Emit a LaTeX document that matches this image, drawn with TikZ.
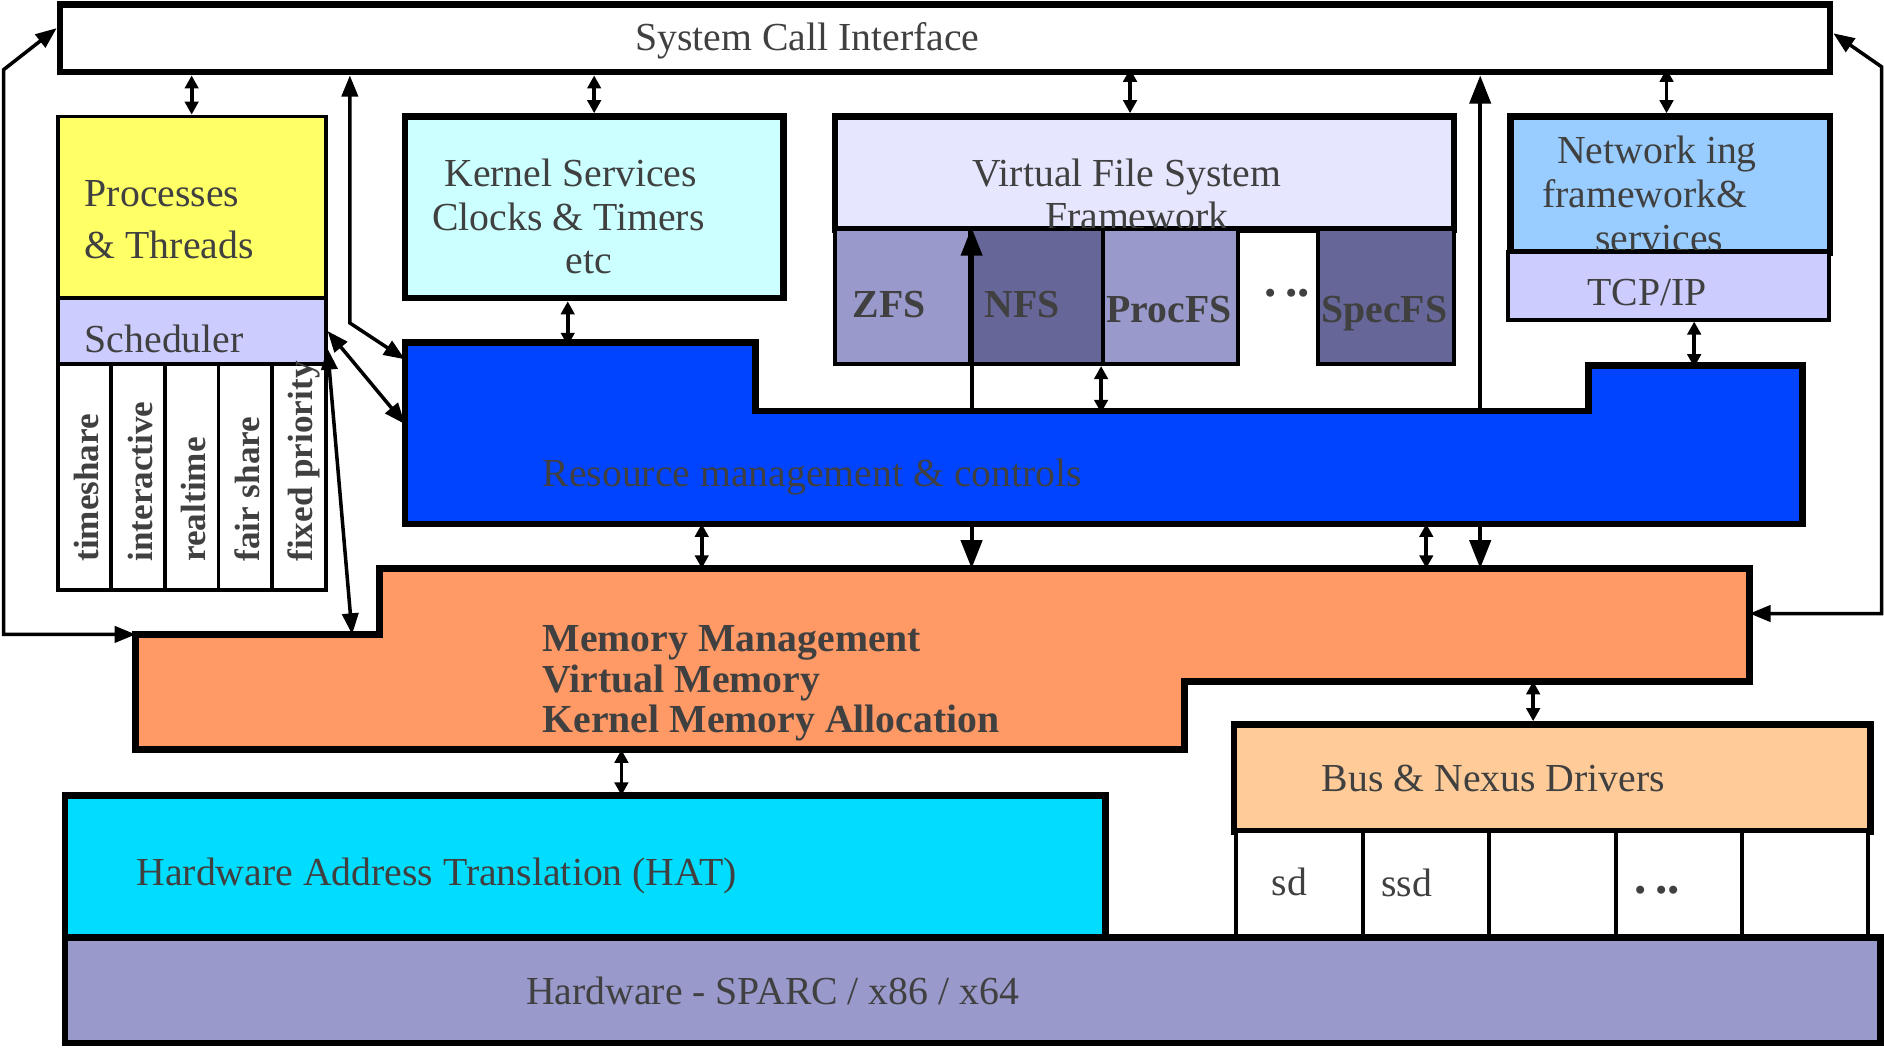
\documentclass[tikz,border=0pt]{standalone}
\usepackage{fontspec}
\setmainfont{Liberation Serif}
\usetikzlibrary{arrows.meta,fit,calc,positioning}
\definecolor{txtgray}{RGB}{64,64,64}
\definecolor{procyellow}{HTML}{FFFF66}
\definecolor{schedlilac}{HTML}{CCCCFF}
\definecolor{kerncyan}{HTML}{CCFFFF}
\definecolor{vfslilac}{HTML}{E6E6FF}
\definecolor{fslight}{HTML}{9999CC}
\definecolor{fsdark}{HTML}{666699}
\definecolor{netblue}{HTML}{99CCFF}
\definecolor{resblue}{HTML}{0044FF}
\definecolor{memorange}{HTML}{FF9966}
\definecolor{busorange}{HTML}{FFCC99}
\definecolor{hatcyan}{HTML}{00DDFF}
\tikzset{layer/.style = {draw, line width=1.9pt, inner sep=0pt, fit={#1}},
         cell/.style = {draw, line width=1.1pt, inner sep=0pt, fit={#1}},
         lbl/.style = {text=txtgray, inner sep=0pt, font=\fontsize{11.3}{13}\selectfont},
         blbl/.style = {text=txtgray, inner sep=0pt, font=\fontsize{11.3}{13}\selectfont\bfseries},
         dots/.style = {text=txtgray, inner sep=0pt, font=\fontsize{14}{16}\selectfont\bfseries, anchor=base west},
         rot/.style = {text=txtgray, inner sep=0pt, font=\fontsize{10}{12}\selectfont\bfseries, rotate=90, anchor=base west},
         dbl/.style = {line width=1.1pt, {Triangle[length=3.7pt,width=3.8pt]}-{Triangle[length=3.7pt,width=3.8pt]}},
         link/.style = {line width=1pt, {Triangle[length=6pt,width=4.6pt]}-{Triangle[length=6pt,width=4.6pt]}},
         big/.style = {line width=1.1pt, -{Triangle[length=8pt,width=6pt]}}}

\begin{document}
\begin{tikzpicture}[x=0.012015cm, y=-0.012015cm]
    \useasboundingbox (0,0) rectangle (1568,872);
    % system call interface
    \node[layer={(50,4) (1523,60)}, fill=white] (sci) {};
    \node[lbl, anchor=base] (scit) at (672,42) {System Call Interface};
    % processes, scheduler and classes
    \node[cell={(48,97) (271,248)}, fill=procyellow] (proc) {};
    \node[lbl, anchor=base west] (proct1) at (70,172) {Processes};
    \node[lbl, anchor=base west] (proct2) at (70,215) {\& Threads};
    \node[cell={(48,248) (271,303)}, fill=schedlilac] (sched) {};
    \node[lbl, anchor=base west] (schedt) at (70,293) {Scheduler};
    \foreach \cls [count=\i] in {timeshare, interactive, realtime, fair share, fixed priority} {
        \node[cell={(3.4+44.6*\i,303) (48+44.6*\i,491)}, fill=white] (cls\i) {};
        \node[rot] (clst\i) at (37.4+44.6*\i,468) {\cls};
    }
    % kernel services
    \node[layer={(337,97) (652,248)}, fill=kerncyan] (kern) {};
    \node[lbl, anchor=base] (kernt1) at (475,155) {Kernel Services};
    \node[lbl, anchor=base] (kernt2) at (473,192) {Clocks \& Timers};
    \node[lbl, anchor=base] (kernt3) at (490,228) {etc};
    % file systems
    \node[layer={(695,97) (1210,191)}, fill=vfslilac] (vfs) {};
    \node[lbl, anchor=base] (vfst1) at (938,155) {Virtual File System};
    \node[lbl, anchor=base] (vfst2) at (946,191) {Framework};
    \node[cell={(695,191) (807,303)}, fill=fslight] (zfs) {};
    \node[cell={(807,191) (918,303)}, fill=fsdark] (nfs) {};
    \node[cell={(918,191) (1030,303)}, fill=fslight] (procfs) {};
    \node[cell={(1097,191) (1210,303)}, fill=fsdark] (specfs) {};
    \node[blbl, anchor=base] (zfst) at (740,264) {ZFS};
    \node[blbl, anchor=base] (nfst) at (851,264) {NFS};
    \node[blbl, anchor=base] (procfst) at (973,268) {ProcFS};
    \node[blbl, anchor=base] (specfst) at (1152,268) {SpecFS};
    \node[dots] (fsdots) at (1052,247) {.\,..};
    % networking
    \node[layer={(1257,97) (1523,210)}, fill=netblue] (net) {};
    \node[lbl, anchor=base] (nett1) at (1379,136) {Network ing};
    \node[lbl, anchor=base] (nett2) at (1369,173) {framework\&};
    \node[lbl, anchor=base] (nett3) at (1381,209) {services};
    \node[cell={(1255,210) (1522,266)}, fill=schedlilac] (tcp) {};
    \node[lbl, anchor=base] (tcpt) at (1371,254) {TCP/IP};
    % resource management
    \draw[line width=1.9pt, fill=resblue] (337,285) coordinate (res-a) -- (629,285) coordinate (res-b)
        -- (629,342) coordinate (res-c) -- (1322,342) coordinate (res-d) -- (1322,304) coordinate (res-e)
        -- (1500,304) coordinate (res-f) -- (1500,436) coordinate (res-g) -- (337,436) coordinate (res-h) -- cycle;
    \node[lbl, anchor=base west] (rest) at (451,405) {Resource management \& controls};
    % memory management
    \draw[line width=1.9pt, fill=memorange] (113,528) coordinate (mem-a) -- (316,528) coordinate (mem-b)
        -- (316,473) coordinate (mem-c) -- (1456,473) coordinate (mem-d) -- (1456,567) coordinate (mem-e)
        -- (986,567) coordinate (mem-f) -- (986,624) coordinate (mem-g) -- (113,624) coordinate (mem-h) -- cycle;
    \foreach \txt [count=\i] in {Memory Management, Virtual Memory, Kernel Memory Allocation}
        \node[blbl, anchor=base west] (memt\i) at (451,508+34*\i) {\txt};
    % bus and drivers
    \node[layer={(1027,603) (1557,692)}, fill=busorange] (bus) {};
    \node[lbl, anchor=base] (bust) at (1243,659) {Bus \& Nexus Drivers};
    \foreach \i in {1,...,5}
        \node[cell={(923.8+105.2*\i,692) (1029+105.2*\i,780)}, fill=white] (drv\i) {};
    \node[lbl, anchor=base west] (drvt1) at (1058,745) {sd};
    \node[lbl, anchor=base west] (drvt2) at (1149,746) {ssd};
    \node[dots] (drvt4) at (1360,744) {.\,..};
    % hat and hardware
    \node[layer={(54,662) (920,780)}, fill=hatcyan] (hat) {};
    \node[lbl, anchor=base west] (hatt) at (113,737) {Hardware Address Translation (HAT)};
    \node[layer={(54,780) (1565,868)}, fill=fslight] (hw) {};
    \node[lbl, anchor=base] (hwt) at (643,836) {Hardware - SPARC / x86 / x64};
    % connectors
    \draw[dbl] (proc.north) -- (proc.north |- sci.south);
    \draw[dbl] (kern.north) -- (kern.north |- sci.south);
    \draw[dbl] ($(vfs.north)+(-12,0)$) -- +(0,-37);
    \draw[dbl] ($(net.north)+(-3,0)$) -- +(0,-37);
    \draw[dbl] ($(kern.south)+(-22,0)$) -- +(0,37);
    \draw[dbl] (procfs.south west) -- +(0,39);
    \draw[dbl] ($(tcp.south)+(21.5,0)$) -- +(0,38);
    \draw[big] (zfs.south east |- res-c) -- (zfs.north east);
    \draw[big] ($(res-c)!.87!(res-d)$) coordinate (upx) -- (upx |- sci.south);
    \draw[dbl] ($(res-h)!.2124!(res-g)$) -- +(0,37);
    \draw[big] (zfs.south east |- res-h) -- (zfs.south east |- mem-c);
    \draw[dbl] ($(res-h)!.7309!(res-g)$) -- +(0,37);
    \draw[big] (upx |- res-h) -- (upx |- mem-c);
    \draw[dbl] ($(mem-e)!.383!(mem-f)$) -- (bus.north -| {$(mem-e)!.383!(mem-f)$});
    \draw[dbl] ($(mem-h)!.463!(mem-g)$) -- +(0,38);
    \draw[link] (mem-a) -- ++(-110,0) -- ++(0,-470) -- ($(sci.north west)!.36!(sci.south west)$);
    \draw[link] ($(mem-d)!.4!(mem-e)$) -- ++(110,0) -- ++(0,-455) -- ($(sci.north east)!.43!(sci.south east)$);
    \draw[link] ($(sci.south west)!.165!(sci.south east)$) -- ++(0,206) -- ($(res-a)!.093!(res-h)$);
    \draw[link] (sched.east) -- ($(res-a)!.45!(res-h)$);
    \draw[link] ($(sched.north east)!.75!(sched.south east)$) -- ($(mem-a)!.887!(mem-b)$);
\end{tikzpicture}
\end{document}
